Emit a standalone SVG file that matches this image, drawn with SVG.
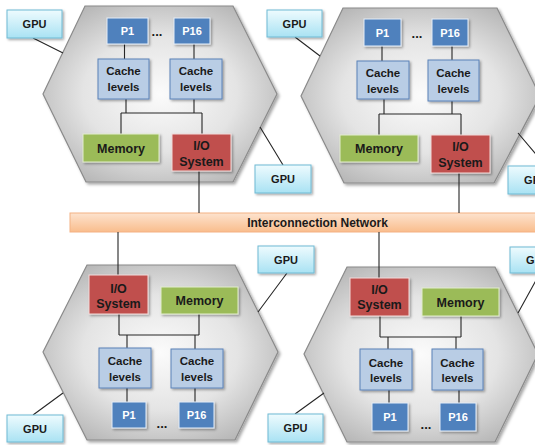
<svg xmlns="http://www.w3.org/2000/svg" width="535" height="445" viewBox="0 0 535 445">
<defs>
<radialGradient id="hexg" cx="50%" cy="50%" r="60%">
<stop offset="0" stop-color="#fbfbfb"/>
<stop offset="0.55" stop-color="#e4e4e4"/>
<stop offset="1" stop-color="#b4b4b4"/>
</radialGradient>
<linearGradient id="gpug" x1="0" y1="0" x2="0" y2="1">
<stop offset="0" stop-color="#eefbfe"/>
<stop offset="1" stop-color="#a9e2f3"/>
</linearGradient>
<linearGradient id="barg" x1="0" y1="0" x2="0" y2="1">
<stop offset="0" stop-color="#fde3cf"/>
<stop offset="1" stop-color="#f9bd8c"/>
</linearGradient>
<filter id="sh" x="-10%" y="-10%" width="130%" height="140%">
<feDropShadow dx="1.5" dy="1.5" stdDeviation="1" flood-color="#000" flood-opacity="0.35"/>
</filter>
<filter id="hsh" x="-10%" y="-10%" width="130%" height="130%">
<feDropShadow dx="2" dy="2" stdDeviation="1.5" flood-color="#000" flood-opacity="0.35"/>
</filter>
</defs>
<style>
.hex{fill:url(#hexg);stroke:#8a8a8a;stroke-width:1.2;filter:url(#hsh)}
.p{fill:#4f81bd;stroke:#e6eef8;stroke-width:1;filter:url(#sh)}
.c{fill:#b9cde5;stroke:#5b82b8;stroke-width:1;filter:url(#sh)}
.m{fill:#9bbb59;stroke:#e3edcf;stroke-width:1;filter:url(#sh)}
.io{fill:#c0504d;stroke:#f2dcdb;stroke-width:1;filter:url(#sh)}
.gpu{fill:url(#gpug);stroke:#6fbad3;stroke-width:1;filter:url(#sh)}
.bar{fill:url(#barg);stroke:#f4b183;stroke-width:1}
text{font-family:"Liberation Sans",Arial,sans-serif;font-weight:bold;text-anchor:middle;fill:#1a1a1a}
.tp{fill:#ffffff;font-size:11px}
.tc{font-size:11.5px}
.tm{font-size:12.5px}
.ti{font-size:12.5px}
.tg{font-size:11px}
.tb{font-size:12px}
.dots{font-size:13px}
.ln{stroke:#262626;stroke-width:1.1;fill:none}
</style>

<!-- interconnection bar -->
<g id="network">
<rect class="bar" x="70" y="213" width="480" height="19"/>
<text class="tb" x="317.5" y="227">Interconnection Network</text>
</g>

<!-- hexagons -->
<g id="node1">
<polygon class="hex" points="85,6 233,6 277,94 233,182 86,182 43,94"/>
</g>
<g id="node2">
<polygon class="hex" points="343,8 497,8 540,96 494,183 344,183 301,96"/>
</g>
<g id="node3">
<polygon class="hex" points="87,265 235,265 278,352 235,440 87,440 43,352"/>
</g>
<g id="node4">
<polygon class="hex" points="347,267 495,267 538,354 495,442 347,442 304,354"/>
</g>

<!-- connectors -->
<g id="connectors">
<!-- node1 -->
<path class="ln" d="M124.5,44V59 M194,44V59 M126,99V113 M194,99V113 M121,113H202 M121,113V134 M202,113V134 M199,171V213"/>
<!-- node2 -->
<path class="ln" d="M382,46V61 M452,46V60 M384,99V114 M452,101V114 M379,114H461 M379,114V135 M461,114V135 M459,173V213"/>
<!-- node3 -->
<path class="ln" d="M118,232V275 M119,314V335 M199,314V335 M119,335H199 M127,335V348 M195,335V349 M127,388V402 M195,388V402"/>
<!-- node4 -->
<path class="ln" d="M379,232V278 M380,316V337 M461,316V337 M380,337H461 M388,337V349 M456,337V349 M389,390V403 M459,390V403"/>
<!-- GPU links -->
<path class="ln" d="M33,38L63,53 M260,127L283,165 M295,37L320,56 M518,133L546,166 M287,273L258,312 M33,415L63,393 M295,414L324,393 M518,313L540,273"/>
</g>

<!-- node1 components -->
<g id="n1-p1"><rect class="p" x="107" y="18" width="41" height="26"/><text class="tp" x="127.5" y="35">P1</text></g>
<g id="n1-p16"><rect class="p" x="174" y="18" width="36" height="26"/><text class="tp" x="192" y="35">P16</text></g>
<text class="dots" x="157" y="36">...</text>
<g id="n1-c1"><rect class="c" x="98" y="59" width="51" height="40"/><text class="tc" x="123.5" y="75">Cache</text><text class="tc" x="123.5" y="91">levels</text></g>
<g id="n1-c2"><rect class="c" x="170" y="59" width="52" height="40"/><text class="tc" x="196" y="75">Cache</text><text class="tc" x="196" y="91">levels</text></g>
<g id="n1-mem"><rect class="m" x="83" y="134" width="76" height="28"/><text class="tm" x="121" y="152.5">Memory</text></g>
<g id="n1-io"><rect class="io" x="172" y="134" width="59" height="37"/><text class="ti" x="201.5" y="149.5">I/O</text><text class="ti" x="201.5" y="166">System</text></g>

<!-- node2 components -->
<g id="n2-p1"><rect class="p" x="364" y="19" width="37" height="27"/><text class="tp" x="382.5" y="36.5">P1</text></g>
<g id="n2-p16"><rect class="p" x="432" y="19" width="36" height="27"/><text class="tp" x="450" y="36.5">P16</text></g>
<text class="dots" x="417" y="38">...</text>
<g id="n2-c1"><rect class="c" x="357" y="61" width="52" height="38"/><text class="tc" x="383" y="77">Cache</text><text class="tc" x="383" y="92.5">levels</text></g>
<g id="n2-c2"><rect class="c" x="428" y="60" width="51" height="41"/><text class="tc" x="453.5" y="77">Cache</text><text class="tc" x="453.5" y="92.5">levels</text></g>
<g id="n2-mem"><rect class="m" x="340" y="135" width="78" height="27"/><text class="tm" x="379" y="153">Memory</text></g>
<g id="n2-io"><rect class="io" x="431" y="135" width="59" height="38"/><text class="ti" x="460.5" y="151">I/O</text><text class="ti" x="460.5" y="167">System</text></g>

<!-- node3 components -->
<g id="n3-io"><rect class="io" x="89" y="275" width="59" height="39"/><text class="ti" x="118.5" y="292.5">I/O</text><text class="ti" x="118.5" y="307.5">System</text></g>
<g id="n3-mem"><rect class="m" x="161" y="287" width="77" height="27"/><text class="tm" x="199.5" y="305">Memory</text></g>
<g id="n3-c1"><rect class="c" x="99" y="348" width="52" height="40"/><text class="tc" x="125" y="365">Cache</text><text class="tc" x="125" y="381">levels</text></g>
<g id="n3-c2"><rect class="c" x="171" y="349" width="52" height="39"/><text class="tc" x="197" y="365">Cache</text><text class="tc" x="197" y="381">levels</text></g>
<g id="n3-p1"><rect class="p" x="112" y="402" width="34" height="26"/><text class="tp" x="129" y="419">P1</text></g>
<g id="n3-p16"><rect class="p" x="179" y="402" width="35" height="26"/><text class="tp" x="196.5" y="419">P16</text></g>
<text class="dots" x="162" y="428">...</text>

<!-- node4 components -->
<g id="n4-io"><rect class="io" x="350" y="278" width="59" height="38"/><text class="ti" x="379.5" y="293.5">I/O</text><text class="ti" x="379.5" y="309">System</text></g>
<g id="n4-mem"><rect class="m" x="422" y="288" width="77" height="28"/><text class="tm" x="460.5" y="306.5">Memory</text></g>
<g id="n4-c1"><rect class="c" x="360" y="349" width="52" height="41"/><text class="tc" x="386" y="367">Cache</text><text class="tc" x="386" y="382">levels</text></g>
<g id="n4-c2"><rect class="c" x="432" y="349" width="51" height="41"/><text class="tc" x="457.5" y="367">Cache</text><text class="tc" x="457.5" y="382">levels</text></g>
<g id="n4-p1"><rect class="p" x="372" y="403" width="36" height="28"/><text class="tp" x="390" y="421">P1</text></g>
<g id="n4-p16"><rect class="p" x="440" y="403" width="36" height="28"/><text class="tp" x="458" y="421">P16</text></g>
<text class="dots" x="426" y="429">...</text>

<!-- GPUs -->
<g id="gpu1"><rect class="gpu" x="7" y="10" width="55" height="28"/><text class="tg" x="34.5" y="28">GPU</text></g>
<g id="gpu2"><rect class="gpu" x="255" y="165" width="56" height="28"/><text class="tg" x="283" y="183">GPU</text></g>
<g id="gpu3"><rect class="gpu" x="267" y="10" width="55" height="27"/><text class="tg" x="294.5" y="27.5">GPU</text></g>
<g id="gpu4"><rect class="gpu" x="508" y="166" width="56" height="28"/><text class="tg" x="536" y="184">GPU</text></g>
<g id="gpu5"><rect class="gpu" x="258" y="246" width="56" height="27"/><text class="tg" x="286" y="263.5">GPU</text></g>
<g id="gpu6"><rect class="gpu" x="510" y="247" width="56" height="26"/><text class="tg" x="538" y="264">GPU</text></g>
<g id="gpu7"><rect class="gpu" x="7" y="415" width="56" height="27"/><text class="tg" x="35" y="432.5">GPU</text></g>
<g id="gpu8"><rect class="gpu" x="268" y="414" width="55" height="28"/><text class="tg" x="295.5" y="432">GPU</text></g>
</svg>
